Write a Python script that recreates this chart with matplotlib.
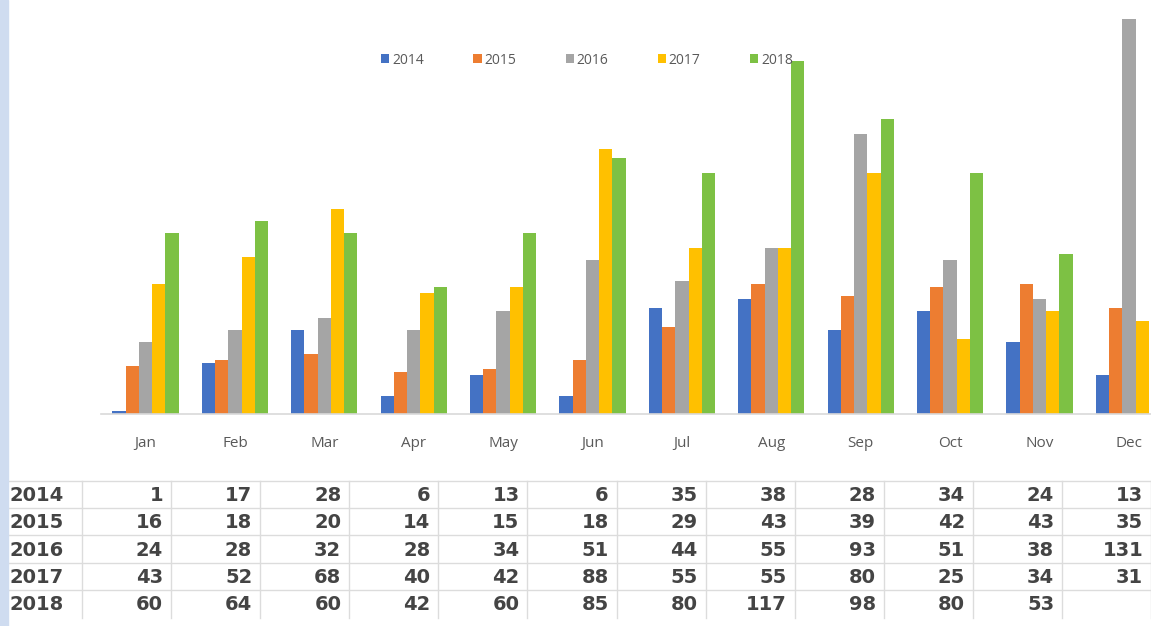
import numpy as np
import matplotlib
matplotlib.use("Agg")
import matplotlib.pyplot as plt
from matplotlib.patches import Rectangle

months = ["Jan", "Feb", "Mar", "Apr", "May", "Jun", "Jul", "Aug", "Sep", "Oct", "Nov", "Dec"]
years = ["2014", "2015", "2016", "2017", "2018"]
v2014 = [1, 17, 28, 6, 13, 6, 35, 38, 28, 34, 24, 13]
v2015 = [16, 18, 20, 14, 15, 18, 29, 43, 39, 42, 43, 35]
v2016 = [24, 28, 32, 28, 34, 51, 44, 55, 93, 51, 38, 131]
v2017 = [43, 52, 68, 40, 42, 88, 55, 55, 80, 25, 34, 31]
v2018 = [60, 64, 60, 42, 60, 85, 80, 117, 98, 80, 53, np.nan]
series = [v2014, v2015, v2016, v2017, v2018]
colors = ["#4472C4", "#ED7D31", "#A5A5A5", "#FFC000", "#7DC144"]

W, H = 1151, 626
fig = plt.figure(figsize=(W / 100, H / 100), dpi=100)
fig.patch.set_facecolor("white")

# chart axes (extends past right edge, like the cropped screenshot)
cat_w = 89.4
ax_left = 100.8
ax_bottom = 414
ax = fig.add_axes([ax_left / W, (H - ax_bottom) / H, cat_w * 12 / W, ax_bottom / H])
ax.set_xlim(-0.5, 11.5)
ax.set_ylim(0, ax_bottom / 3.015)
bw = 0.148
x = np.arange(len(months))
handles = []
for i, (vals, c, lab) in enumerate(zip(series, colors, years)):
    h = ax.bar(x + (i - 2) * bw, vals, width=bw, color=c, label=lab, linewidth=0)
    handles.append(h)
for s in ["top", "right", "left"]:
    ax.spines[s].set_visible(False)
ax.spines["bottom"].set_color("#d9d9d9")
ax.spines["bottom"].set_linewidth(1.2)
ax.set_yticks([])
ax.set_xticks(x)
ax.set_xticklabels(months, fontsize=11, color="#595959", family="Open Sans")
ax.tick_params(axis="x", length=0, pad=16)
ax.patch.set_alpha(0)

leg = fig.legend(handles=handles, labels=years, loc="center", ncol=5,
                 bbox_to_anchor=(587 / W, 1 - 60 / H), frameon=False,
                 prop={"family": "Open Sans", "size": 10},
                 handlelength=0.6, handleheight=0.6, handletextpad=0.2,
                 columnspacing=3.55, labelcolor="#595959")

# overlay axes in pixel coordinates for table and border strip
ov = fig.add_axes([0, 0, 1, 1])
ov.set_xlim(0, W)
ov.set_ylim(H, 0)
ov.axis("off")
ov.patch.set_alpha(0)

ov.add_patch(Rectangle((0, 0), 8, H, color="#cfdcf0", zorder=5))

# table
col0 = 82.0
colw = 89.1
top = 480.5
rowh = 27.4
grid_c = "#dcdcdc"
for r in range(5):
    yy = top + r * rowh
    ov.plot([8, W], [yy, yy], color=grid_c, lw=1)
for k in range(13):
    xx = col0 + k * colw
    ov.plot([xx, xx], [top, top + 5 * rowh], color=grid_c, lw=1)

tfont = dict(family="DejaVu Sans", fontsize=14, fontweight="bold", color="#444444")
for r, (lab, vals) in enumerate(zip(years, series)):
    yc = top + (r + 0.5) * rowh + 1
    ov.text(10, yc, lab, ha="left", va="center", **tfont)
    for k, v in enumerate(vals):
        if np.isnan(v):
            continue
        ov.text(col0 + (k + 1) * colw - 8, yc, f"{int(v)}", ha="right", va="center", **tfont)

fig.savefig("out.png", dpi=100, facecolor="white")
